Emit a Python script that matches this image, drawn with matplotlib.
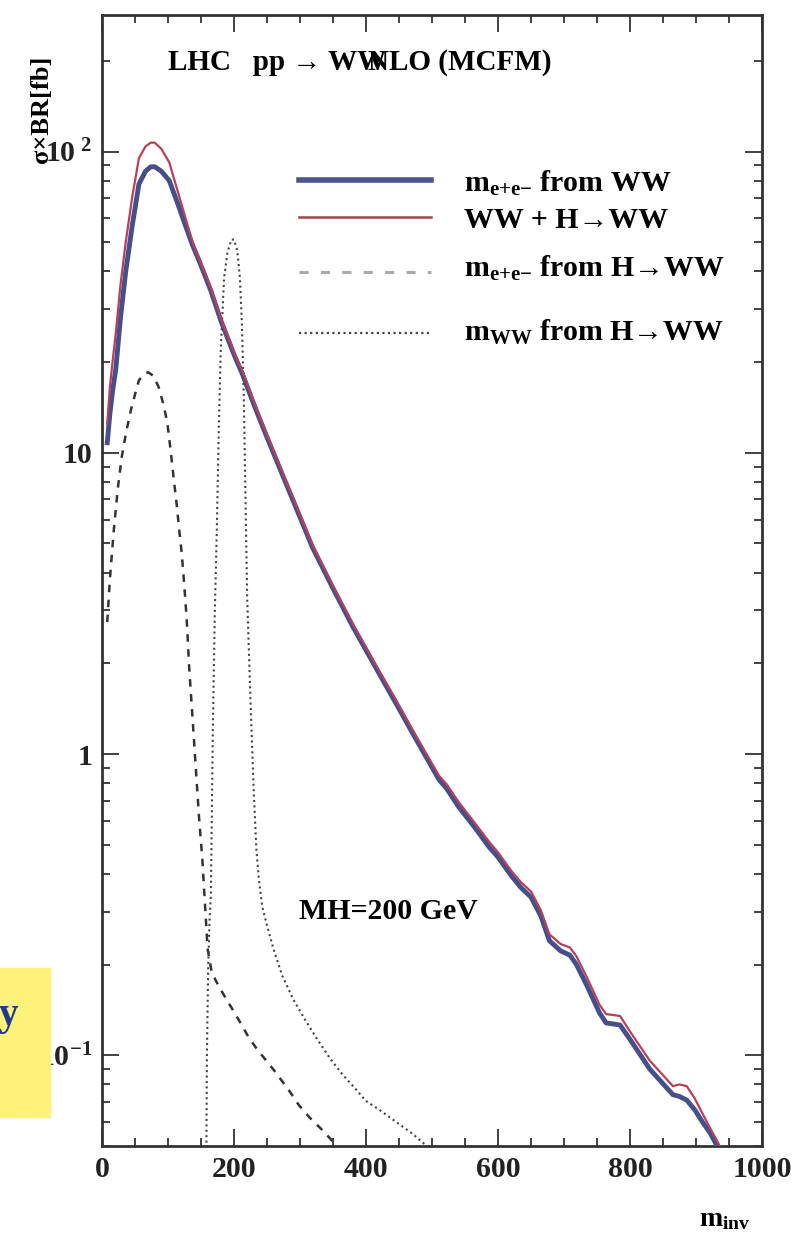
import matplotlib
matplotlib.use("Agg")
import matplotlib.pyplot as plt
from matplotlib.patches import Rectangle
from matplotlib.lines import Line2D
from matplotlib.ticker import MultipleLocator, LogLocator, NullFormatter, FixedLocator

plt.rcParams['font.family'] = ['Liberation Serif', 'DejaVu Serif']
plt.rcParams['font.weight'] = 'bold'
plt.rcParams['mathtext.fontset'] = 'custom'
plt.rcParams['mathtext.rm'] = 'Liberation Serif:bold'
plt.rcParams['mathtext.it'] = 'Liberation Serif:bold'
plt.rcParams['mathtext.bf'] = 'Liberation Serif:bold'

# m_e+e- from WW (blue) and WW + H->WW (red)
x_ww = [8, 12, 16, 21, 28, 36, 46, 56, 66, 74, 80, 90, 102, 115, 125, 137, 147,
        165, 180, 200, 213, 230, 249, 279, 319, 350, 380, 420, 445, 471, 511, 522,
        540, 565, 587, 600, 620, 635, 650, 665, 678, 695, 709, 719, 735, 754, 764,
        775, 785, 800, 830, 865, 875, 886, 898, 910, 922, 932, 938]
y_ww = [10.8, 13.5, 16, 19, 28, 40, 57, 78, 86, 89, 89, 86, 80, 67, 58, 49, 43.5,
        34.5, 27.5, 21.2, 18.2, 14.5, 11.4, 7.9, 4.85, 3.55, 2.65, 1.85, 1.48, 1.17,
        0.82, 0.77, 0.67, 0.57, 0.49, 0.455, 0.395, 0.36, 0.335, 0.29, 0.24, 0.222,
        0.215, 0.2, 0.17, 0.138, 0.128, 0.127, 0.126, 0.113, 0.09, 0.074, 0.073,
        0.071, 0.066, 0.06, 0.055, 0.05, 0.045]
y_sum = [12.5, 16.5, 20, 25, 36, 50, 71, 95, 104, 107, 107, 102, 92, 73.5, 61.8,
         50.3, 44.1, 35.2, 28, 21.6, 18.6, 14.8, 11.6, 8.05, 4.95, 3.62, 2.71, 1.89,
         1.52, 1.2, 0.845, 0.795, 0.695, 0.59, 0.51, 0.472, 0.41, 0.375, 0.35, 0.303,
         0.252, 0.234, 0.228, 0.213, 0.181, 0.147, 0.137, 0.136, 0.135, 0.12, 0.096,
         0.079, 0.08, 0.079, 0.072, 0.064, 0.057, 0.052, 0.049]

# m_e+e- from H->WW (dashed)
x_hee = [8, 12, 18, 24, 30, 37, 44, 50, 56, 63, 70, 78, 86, 93, 99, 104, 109, 113,
         117, 121, 124, 127, 129, 132, 137, 142, 147, 152, 156, 160, 166, 173, 185,
         197, 210, 223, 236, 249, 261, 273, 286, 299, 315, 332, 349, 356]
y_hee = [2.74, 3.8, 5.56, 7.6, 9.7, 11.8, 13.9, 15.6, 17.4, 18.2, 18.5, 18.0, 16.5,
         14.5, 12.6, 10.2, 8.1, 6.8, 5.56, 4.6, 3.8, 3.1, 2.65, 1.96, 1.34, 0.91,
         0.62, 0.45, 0.32, 0.226, 0.19, 0.176, 0.158, 0.143, 0.128, 0.114, 0.104,
         0.096, 0.089, 0.082, 0.075, 0.068, 0.062, 0.057, 0.052, 0.049]

# m_WW from H->WW (dotted)
x_hww = [158, 159, 161, 163, 165, 168, 171, 174, 177, 180, 185, 190, 196, 200, 205,
         209, 212, 215, 218, 220, 226, 230, 234, 238, 243, 250, 260, 273, 290, 308,
         325, 345, 365, 385, 400, 420, 446, 470, 492]
y_hww = [0.04, 0.1, 0.2, 0.28, 0.34, 1.2, 3.0, 5.5, 12, 22, 38, 46, 51, 51, 47, 38,
         27, 15, 6, 3.3, 1.3, 0.75, 0.48, 0.38, 0.31, 0.27, 0.225, 0.184, 0.153,
         0.131, 0.114, 0.098, 0.086, 0.077, 0.0705, 0.066, 0.06, 0.055, 0.05]

labels = [r'm$_{\mathrm{e{+}e{-}}}$ from WW', 'WW + H\u2192WW',
          r'm$_{\mathrm{e{+}e{-}}}$ from H' + '\u2192WW', r'm$_{WW}$ from H' + '\u2192WW']

ytick_vals = [0.1, 1, 10, 100]
ytick_labels = [r'10$^{-1}$', '1', '10', r'10$^{\ 2}$']

fig = plt.figure(figsize=(8.08, 12.35), dpi=100)
ax = fig.add_axes([0.1262, 0.0721, 0.8168, 0.9158])

ax.plot(x_ww, y_ww, color='#45508a', lw=3.5, zorder=3)
ax.plot(x_ww, y_sum, color='#b84058', lw=1.6, zorder=4)
ax.plot(x_hee, y_hee, color='#333333', lw=1.8, dashes=(3, 3), zorder=3)
ax.plot(x_hww, y_hww, color='#444444', lw=1.5, dashes=(1, 1.6), zorder=3)

ax.set_yscale('log')
ax.set_xlim(0, 1000)
ax.set_ylim(0.05, 284)

ax.xaxis.set_major_locator(MultipleLocator(200))
ax.xaxis.set_minor_locator(MultipleLocator(50))
ax.yaxis.set_major_locator(FixedLocator(ytick_vals))
ax.set_yticklabels(ytick_labels)
ax.yaxis.set_minor_locator(LogLocator(base=10, subs=range(2, 10)))
ax.yaxis.set_minor_formatter(NullFormatter())

ax.tick_params(which='both', direction='in', top=True, right=True, labelsize=21.5,
               colors='#222222', width=1.2)
ax.tick_params(which='major', length=12, pad=7)
ax.tick_params(which='minor', length=6)
for s in ax.spines.values():
    s.set_linewidth(2)
    s.set_color('#333333')

# legend keys drawn by hand, the rows are not evenly spaced in the original
key_styles = [dict(color='#4a5588', lw=4),
              dict(color='#a04848', lw=1.8),
              dict(color='#aaaaaa', lw=2.2, dashes=(3, 4)),
              dict(color='#444444', lw=1.6, dashes=(1, 1.5))]
key_y = [0.8541, 0.8214, 0.7728, 0.7189]
text_y = [0.8435, 0.8116, 0.7683, 0.7118]
for st, ky, ty, lab in zip(key_styles, key_y, text_y, labels):
    ax.add_line(Line2D([0.298, 0.4985], [ky, ky], transform=ax.transAxes, **st))
    ax.text(0.5486, ty, lab, transform=ax.transAxes, fontsize=21.5,
            va='baseline', ha='left')

ax.text(0.10, 0.958, 'LHC   pp \u2192 WW', transform=ax.transAxes, fontsize=21,
        va='center', ha='left')
ax.text(0.403, 0.958, 'NLO (MCFM)', transform=ax.transAxes, fontsize=21,
        va='center', ha='left')
ax.text(0.298, 0.207, 'MH=200 GeV', transform=ax.transAxes, fontsize=21.5,
        va='center', ha='left')

fig.text(41 / 808, 1 - 109 / 1235, '\u03c3\u00d7BR[fb]', rotation=90, fontsize=19,
         ha='center', va='center')
fig.text(725 / 808, 1 - 1220 / 1235, r'm$_{inv}$', fontsize=20, ha='center',
         va='center')

# yellow box from the slide underneath
fig.add_artist(Rectangle((0, 1 - 1117 / 1235), 50 / 808, (1117 - 968) / 1235,
                         transform=fig.transFigure, color='#fff27a', zorder=10))
fig.text(18 / 808, 1 - 1015 / 1235, 'y', fontsize=28, color='#1f3a8a',
         ha='right', va='center', zorder=11)

fig.savefig('out.png', dpi=100, facecolor='white')
